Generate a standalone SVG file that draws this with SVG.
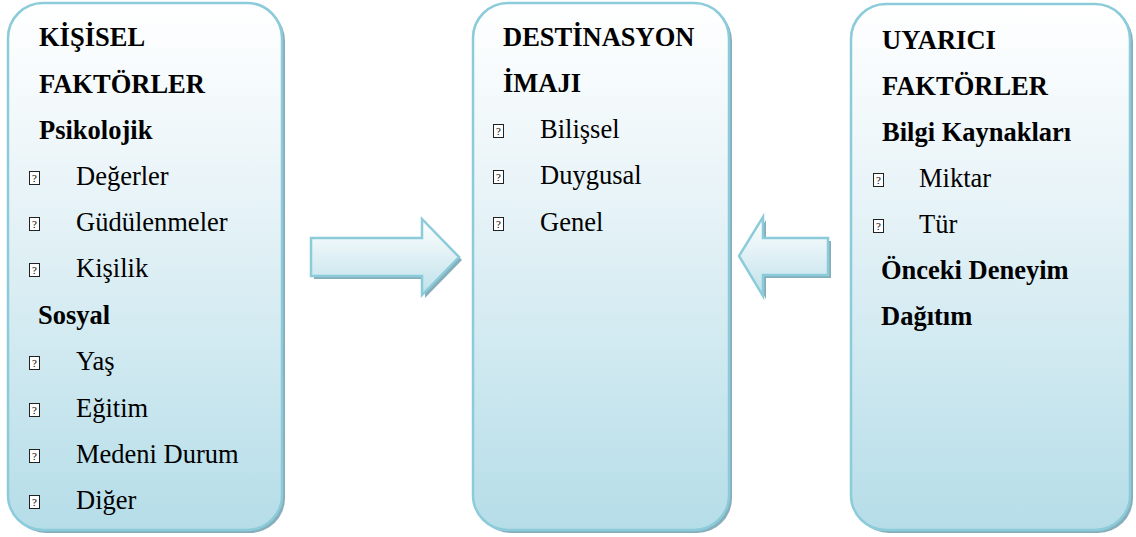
<svg xmlns="http://www.w3.org/2000/svg" width="1136" height="537" viewBox="0 0 1136 537">
<defs>
<linearGradient id="gBox" x1="0" y1="0" x2="0" y2="1">
<stop offset="0" stop-color="#ffffff"/>
<stop offset="0.35" stop-color="#e9f4f8"/>
<stop offset="1" stop-color="#b5dde8"/>
</linearGradient>
<linearGradient id="gArrow" x1="0" y1="0" x2="0" y2="1">
<stop offset="0" stop-color="#ffffff"/>
<stop offset="1" stop-color="#bfe1ea"/>
</linearGradient>
</defs>
<style>
.shadow{fill:#86aebb;}
.box{fill:url(#gBox);stroke:#8ccbda;stroke-width:2.5;}
.arrow{fill:url(#gArrow);stroke:#8ccbda;stroke-width:2.5;stroke-linejoin:miter;}
.h{font-size:26.5px;font-weight:bold;fill:#000;}
.t{font-size:26.5px;fill:#000;}
.bx{fill:#fff;stroke:#222;stroke-width:1;}
.q{font-size:11px;fill:#000;text-anchor:middle;}
</style>

<g id="node-kisisel" font-family="Liberation Serif, Times New Roman, DejaVu Serif, serif">
<rect class="shadow" x="11" y="6" width="274" height="527" rx="35"/>
<rect class="box" x="8" y="3" width="274" height="527" rx="35"/>
<text class="h" x="39" y="46">KİŞİSEL</text>
<text class="h" x="39" y="93">FAKTÖRLER</text>
<text class="h" x="39" y="139">Psikolojik</text>
<g><rect class="bx" x="29.5" y="171.5" width="10" height="13"/><text class="q" x="34.5" y="182">?</text><text class="t" x="76" y="185">Değerler</text></g>
<g><rect class="bx" x="29.5" y="217.5" width="10" height="13"/><text class="q" x="34.5" y="228">?</text><text class="t" x="76" y="231">Güdülenmeler</text></g>
<g><rect class="bx" x="29.5" y="263.5" width="10" height="13"/><text class="q" x="34.5" y="274">?</text><text class="t" x="76" y="277">Kişilik</text></g>
<text class="h" x="38" y="324">Sosyal</text>
<g><rect class="bx" x="29.5" y="356.5" width="10" height="13"/><text class="q" x="34.5" y="367">?</text><text class="t" x="76" y="370">Yaş</text></g>
<g><rect class="bx" x="29.5" y="403.5" width="10" height="13"/><text class="q" x="34.5" y="414">?</text><text class="t" x="76" y="417">Eğitim</text></g>
<g><rect class="bx" x="29.5" y="449.5" width="10" height="13"/><text class="q" x="34.5" y="460">?</text><text class="t" x="76" y="463">Medeni Durum</text></g>
<g><rect class="bx" x="29.5" y="495.5" width="10" height="13"/><text class="q" x="34.5" y="506">?</text><text class="t" x="76" y="509">Diğer</text></g>
</g>

<g id="node-destinasyon" font-family="Liberation Serif, Times New Roman, DejaVu Serif, serif">
<rect class="shadow" x="476" y="6" width="256" height="527" rx="35"/>
<rect class="box" x="473" y="3" width="256" height="527" rx="35"/>
<text class="h" x="503" y="46">DESTİNASYON</text>
<text class="h" x="503" y="92">İMAJI</text>
<g><rect class="bx" x="493.5" y="124.5" width="10" height="13"/><text class="q" x="498.5" y="135">?</text><text class="t" x="540" y="138">Bilişsel</text></g>
<g><rect class="bx" x="493.5" y="170.5" width="10" height="13"/><text class="q" x="498.5" y="181">?</text><text class="t" x="540" y="184">Duygusal</text></g>
<g><rect class="bx" x="493.5" y="217.5" width="10" height="13"/><text class="q" x="498.5" y="228">?</text><text class="t" x="540" y="231">Genel</text></g>
</g>

<g id="node-uyarici" font-family="Liberation Serif, Times New Roman, DejaVu Serif, serif">
<rect class="shadow" x="854" y="7" width="279" height="526" rx="35"/>
<rect class="box" x="851" y="4" width="279" height="526" rx="35"/>
<text class="h" x="882" y="49">UYARICI</text>
<text class="h" x="882" y="95">FAKTÖRLER</text>
<text class="h" x="882" y="141">Bilgi Kaynakları</text>
<g><rect class="bx" x="873.5" y="173.5" width="10" height="13"/><text class="q" x="878.5" y="184">?</text><text class="t" x="919" y="187">Miktar</text></g>
<g><rect class="bx" x="873.5" y="219.5" width="10" height="13"/><text class="q" x="878.5" y="230">?</text><text class="t" x="919" y="233">Tür</text></g>
<text class="h" x="881" y="279">Önceki Deneyim</text>
<text class="h" x="881" y="325">Dağıtım</text>
</g>

<g id="connectors">
<g id="arrow-left-to-center">
<polygon class="shadow" points="314,241 425,241 425,222 462,260 425,298 425,279 314,279"/>
<polygon class="arrow" points="311,238 422,238 422,219 459,257 422,295 422,276 311,276"/>
</g>
<g id="arrow-right-to-center">
<polygon class="shadow" points="831,241 766,241 766,220 742,259 766,299 766,278 831,278"/>
<polygon class="arrow" points="828,238 763,238 763,217 739,256 763,296 763,275 828,275"/>
</g>
</g>
</svg>
